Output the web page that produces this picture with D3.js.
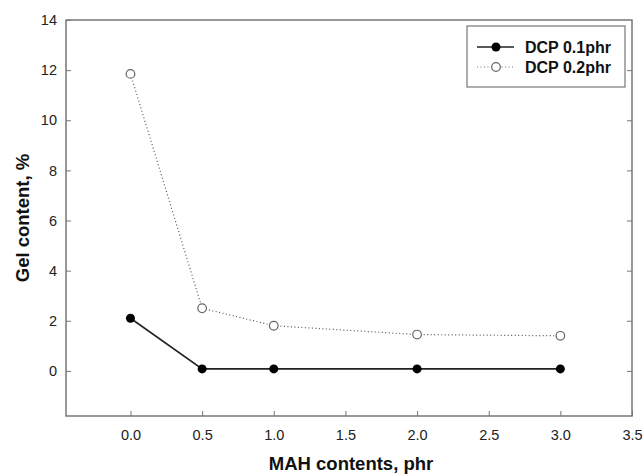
<!DOCTYPE html>
<html>
<head>
<meta charset="utf-8">
<script src="https://cdn.jsdelivr.net/npm/d3@7"></script>
<style>
  body { margin: 0; background: #fff; }
  text { font-family: "Liberation Sans", Arial, sans-serif; }
</style>
</head>
<body>
<svg width="644" height="476"></svg>
<script>
var svg = d3.select("svg");

// data
var mah = [0, 0.5, 1, 2, 3];
var dcp01 = [2.1, 0.08, 0.08, 0.08, 0.08];
var dcp02 = [11.85, 2.5, 1.8, 1.45, 1.4];
var seriesNames = ["DCP 0.1phr", "DCP 0.2phr"];
var xTicks = [0, 0.5, 1, 1.5, 2, 2.5, 3, 3.5];
var yTicks = [0, 2, 4, 6, 8, 10, 12, 14];

// plot box ("top" is a reserved global in browsers, so prefix these)
var pLeft = 66, pRight = 632, pTop = 20, pBottom = 416;

var x = d3.scaleLinear().domain([-0.45, 3.5]).range([pLeft, pRight]);
var y = d3.scaleLinear().domain([-1.8, 14]).range([pBottom, pTop]);

var axisCol = "#777";

// frame (left, bottom, right, top)
svg.append("rect")
  .attr("x", pLeft).attr("y", pTop)
  .attr("width", pRight - pLeft).attr("height", pBottom - pTop)
  .attr("fill", "none").attr("stroke", axisCol).attr("stroke-width", 1.5);

// bottom axis, ticks pointing inward
var gx = svg.append("g")
  .attr("transform", "translate(0," + pBottom + ")")
  .call(d3.axisBottom(x).tickValues(xTicks).tickSizeInner(-5).tickSizeOuter(0)
    .tickPadding(14).tickFormat(d3.format(".1f")));
gx.select(".domain").remove();
gx.selectAll("line").attr("stroke", axisCol);
gx.selectAll("text").attr("font-size", 14.5).attr("fill", "#222");

// left axis
var gy = svg.append("g")
  .attr("transform", "translate(" + pLeft + ",0)")
  .call(d3.axisLeft(y).tickValues(yTicks).tickSizeInner(-5).tickSizeOuter(0)
    .tickPadding(9).tickFormat(d3.format("d")));
gy.select(".domain").remove();
gy.selectAll("line").attr("stroke", axisCol);
gy.selectAll("text").attr("font-size", 14.5).attr("fill", "#222");

// right axis, ticks only
var gr = svg.append("g")
  .attr("transform", "translate(" + pRight + ",0)")
  .call(d3.axisRight(y).tickValues(yTicks.slice(0, -1)).tickSizeInner(-5).tickSizeOuter(0)
    .tickFormat(""));
gr.select(".domain").remove();
gr.selectAll("line").attr("stroke", axisCol);

// axis titles
svg.append("text")
  .attr("x", (pLeft + pRight) / 2 + 2).attr("y", 470)
  .attr("text-anchor", "middle")
  .attr("font-size", 18.5).attr("font-weight", "bold").attr("fill", "#111")
  .text("MAH contents, phr");

svg.append("text")
  .attr("transform", "translate(29," + ((pTop + pBottom) / 2) + ") rotate(-90)")
  .attr("text-anchor", "middle")
  .attr("font-size", 18.5).attr("font-weight", "bold").attr("fill", "#111")
  .text("Gel content, %");

var line = d3.line()
  .x(function(d, i) { return x(mah[i]); })
  .y(function(d) { return y(d); });

// DCP 0.2 dotted, hollow markers
svg.append("path")
  .datum(dcp02)
  .attr("d", line)
  .attr("fill", "none").attr("stroke", "#555")
  .attr("stroke-width", 1.2).attr("stroke-dasharray", "1,2.5");

svg.selectAll(".p2")
  .data(dcp02)
  .enter().append("circle")
  .attr("class", "p2")
  .attr("cx", function(d, i) { return x(mah[i]); })
  .attr("cy", function(d) { return y(d); })
  .attr("r", 4.3)
  .attr("fill", "#fff").attr("stroke", "#666").attr("stroke-width", 1.2);

// DCP 0.1 solid, filled markers
svg.append("path")
  .datum(dcp01)
  .attr("d", line)
  .attr("fill", "none").attr("stroke", "#222").attr("stroke-width", 1.6);

svg.selectAll(".p1")
  .data(dcp01)
  .enter().append("circle")
  .attr("class", "p1")
  .attr("cx", function(d, i) { return x(mah[i]); })
  .attr("cy", function(d) { return y(d); })
  .attr("r", 4.5)
  .attr("fill", "#000");

// legend
var lg = svg.append("g");
lg.append("rect")
  .attr("x", 467).attr("y", 26).attr("width", 158).attr("height", 61)
  .attr("fill", "#fff").attr("stroke", axisCol).attr("stroke-width", 1.2);

var rows = lg.selectAll(".row")
  .data(seriesNames)
  .enter().append("g")
  .attr("class", "row")
  .attr("transform", function(d, i) { return "translate(0," + (47 + i * 20) + ")"; });

rows.append("line")
  .attr("x1", 477).attr("x2", 514)
  .attr("stroke", function(d, i) { return i == 0 ? "#222" : "#777"; })
  .attr("stroke-width", function(d, i) { return i == 0 ? 1.6 : 1.2; })
  .attr("stroke-dasharray", function(d, i) { return i == 0 ? null : "1,2.5"; });

rows.append("circle")
  .attr("cx", 496).attr("r", function(d, i) { return i == 0 ? 4.5 : 4.3; })
  .attr("fill", function(d, i) { return i == 0 ? "#000" : "#fff"; })
  .attr("stroke", function(d, i) { return i == 0 ? null : "#666"; })
  .attr("stroke-width", 1.2);

rows.append("text")
  .attr("x", 525).attr("dy", "0.35em")
  .attr("font-size", 16).attr("font-weight", "bold").attr("fill", "#111")
  .text(function(d) { return d; });
</script>
</body>
</html>
